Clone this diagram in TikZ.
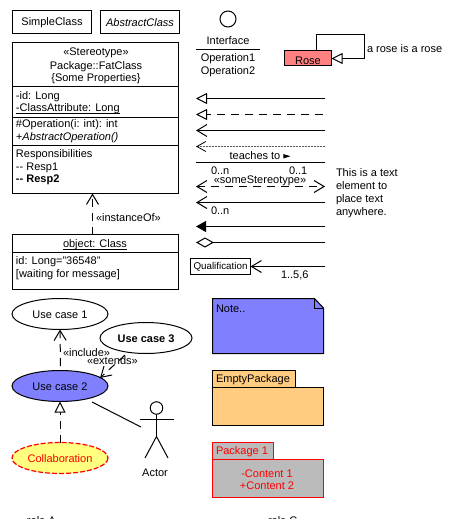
\documentclass[tikz,border=0pt]{standalone}
\usepackage{fontspec}
\setmainfont{Liberation Sans}
\usetikzlibrary{arrows.meta,shapes.geometric}
\definecolor{uccol}{HTML}{8080FF}
\definecolor{rosecol}{HTML}{FF8080}
\definecolor{pkgcol}{HTML}{FFCC80}
\definecolor{collcol}{HTML}{FFFF80}
\definecolor{greycol}{HTML}{BBBBBB}
\definecolor{redline}{RGB}{255,0,0}
\newcommand{\myul}[1]{\setbox0=\hbox{#1}\rlap{\rule[-1.6pt]{\wd0}{.7pt}}\box0}
\tikzset{
 box/.style={draw,line width=1pt,inner sep=0pt,outer sep=0pt},
 redbox/.style={rectangle,fill=greycol,inner sep=0pt,outer sep=0pt},
 redline path/.style={draw=redline,line width=1.5pt},
 txt/.style={inner sep=0pt,outer sep=0pt,yshift=-.8pt,font=\fontsize{11}{13}\selectfont},
 ltxt/.style={txt,anchor=west},
 uc/.style={draw,ellipse,line width=1pt,inner sep=0pt,outer sep=0pt,minimum width=96pt,minimum height=31pt,text height=8pt,text depth=0pt,font=\fontsize{11}{13}\selectfont},
 conn/.style={line width=1pt},
 dashconn/.style={line width=1pt,dash pattern=on 8pt off 6pt},
 tri/.tip={Triangle[open,fill=white,length=11pt,width=11pt,line width=1pt]},
 barb/.tip={Straight Barb[length=10pt,width=12pt,line width=1pt]},
 sbarb/.tip={Straight Barb[length=9pt,width=10pt,line width=.8pt,color=black]},
 ftri/.tip={Triangle[length=10pt,width=11pt]},
 dia/.tip={Diamond[open,fill=white,length=18pt,width=10pt,line width=1pt]},
}
\begin{document}
\begin{tikzpicture}[x=1pt,y=-1pt]
\useasboundingbox (0,0) rectangle (452,519);
\clip (0,0) rectangle (452,519);
% simple classes
\node[box,minimum width=79pt,minimum height=23pt,anchor=north west] (simple) at (12.5,10.5) {};
\node[txt] (simplel) at (52,22) {SimpleClass};
\node[box,minimum width=79pt,minimum height=23pt,anchor=north west] (abstract) at (100.5,10.5) {};
\node[txt] (abstractl) at (140,21.5) {\itshape AbstractClass};
% fat class
\node[box,minimum width=166pt,minimum height=151pt,anchor=north west] (fat) at (12.5,42.5) {};
\draw[line width=1pt] (12.5,86) -- (178.5,86) (12.5,117) -- (178.5,117) (12.5,145.5) -- (178.5,145.5);
\node[txt] (st) at (96,52.5) {«Stereotype»};
\node[txt] (pk) at (96,65.5) {Package::FatClass};
\node[txt] (pr) at (96,78) {\{Some Properties\}};
\node[ltxt] (a1) at (16,96) {-id: Long};
\node[ltxt] (a2) at (16,108) {\myul{-ClassAttribute: Long}};
\node[ltxt] (o1) at (16,124) {\#Operation(i: int): int};
\node[ltxt] (o2) at (16,136.5) {\itshape +AbstractOperation()};
\node[ltxt] (r0) at (16,154) {Responsibilities};
\node[ltxt] (r1) at (16,167) {{-}{-} Resp1};
\node[ltxt] (r2) at (16,179) {\bfseries {-}{-} Resp2};
% object
\node[box,minimum width=166pt,minimum height=55pt,anchor=north west] (obj) at (12.5,234.5) {};
\draw[line width=1pt] (12.5,252.5) -- (178.5,252.5);
\node[txt] (ot) at (95,244) {\myul{object: Class}};
\node[ltxt] (o3) at (16,261) {id: Long="36548"};
\node[ltxt] (o4) at (16,274) {[waiting for message]};
\draw[dashconn,-{barb}] (obj.north -| 92.5,0) -- (fat.south -| 92.5,0);
\node[ltxt] (io) at (96,217) {«instanceOf»};
% interface
\node[draw,circle,line width=1pt,minimum size=16pt,inner sep=0pt] (ifc) at (228,19) {};
\node[txt] (il) at (228,40) {Interface};
\coordinate (il1) at (196,49.5);
\coordinate (il2) at (260,49.5);
\draw[line width=1pt] (il1) -- (il2);
\node[txt] (i1) at (228,57.5) {Operation1};
\node[txt] (i2) at (228,70.5) {Operation2};
% rose
\node[box,fill=rosecol,minimum width=47pt,minimum height=15pt,anchor=north west] (rose) at (284.5,50.5) {};
\node[txt] (rosel) at (308,59.5) {Rose};
\draw[conn,-{tri}] (316.5,50) -- (316.5,34.5) -- (364.5,34.5) -- (364.5,58.5) -- (rose.east |- 0,58.5);
\node[ltxt] (rl) at (367,48) {a rose is a rose};
% arrows
\coordinate (e1) at (325,98.5); \coordinate (s1) at (196,98.5);
\coordinate (e2) at (323,114.5); \coordinate (s2) at (196,114.5);
\coordinate (e3) at (325,130.5); \coordinate (s3) at (196,130.5);
\coordinate (e4) at (325,146.5); \coordinate (s4) at (196,146.5);
\coordinate (e5) at (325,162.5); \coordinate (s5) at (196,162.5);
\coordinate (e6) at (325,186.5); \coordinate (s6) at (196,186.5);
\coordinate (e7) at (325,202.5); \coordinate (s7) at (196,202.5);
\coordinate (e8) at (325,226.5); \coordinate (s8) at (196,226.5);
\coordinate (e9) at (325,242.5); \coordinate (s9) at (196,242.5);
\coordinate (e10) at (325,266.5);
\draw[conn,-{tri}] (e1) -- (s1);
\draw[dashconn,-{tri}] (e2) -- (s2);
\draw[conn,-{barb}] (e3) -- (s3);
\draw[line width=.6pt,black!65,dash pattern=on 2pt off 1pt,-{sbarb}] (e4) -- (s4);
\draw[line width=1pt] (e5) -- (s5);
\node[txt] (tt) at (260,155) {teaches to \tikz[baseline=-3.5pt]\fill (0,-2.2pt) -- (7pt,0) -- (0,2.2pt) -- cycle;};
\node[ltxt] (m1) at (211,169.5) {0..n};
\node[ltxt] (m2) at (289,169.5) {0..1};
\node[txt] (ss) at (260,179.5) {«someStereotype»};
\draw[dashconn,{barb}-{barb}] (s6) -- (e6);
\draw[conn,-{barb}] (e7) -- (s7);
\node[ltxt] (m3) at (211,209.5) {0..n};
\draw[conn,-{ftri}] (e8) -- (s8);
\draw[conn,-{dia}] (e9) -- (s9);
\node[box,minimum width=60pt,minimum height=16pt,anchor=north west,font=\fontsize{9.8}{11}\selectfont] (qual) at (190.5,258.5) {Qualification};
\draw[conn,-{barb}] (e10) -- (qual.east);
\node[ltxt] (m4) at (281,274.5) {1..5,6};
\node[ltxt] (t1) at (336,172) {This is a text};
\node[ltxt] (t2) at (336,185) {element to};
\node[ltxt] (t3) at (336,198.5) {place text};
\node[ltxt] (t4) at (336,212) {anywhere.};
% use cases
\node[uc] (u1) at (60,314) {Use case 1};
\node[uc,minimum width=92pt] (u3) at (146,338) {\bfseries Use case 3};
\node[uc,fill=uccol] (u2) at (60,386) {Use case 2};
\node[uc,draw=none,fill=collcol,text=redline] (coll) at (60,458) {Collaboration};
\draw[draw=redline,line width=1.2pt,dash pattern=on 5pt off 2pt] (coll.center) ellipse (48 and 15.5);
\coordinate (inc0) at (60.5,366);
\draw[dashconn,-{barb}] (inc0) -- (u1.south);
\node[ltxt] (inc) at (63,352) {«include»};
\node[ltxt] (ext) at (87,359.5) {«extends»};
\coordinate (ex) at (125,355);
\coordinate (ext2) at (100,378);
\draw[dashconn,-{barb}] (ex) -- (ext2);
\draw[dashconn,-{tri}] (coll.north) -- (u2.south);
% actor
\node[draw,circle,line width=1pt,minimum size=12.5pt,inner sep=0pt] (head) at (156.5,408) {};
\coordinate (hip) at (156.5,436.5);
\draw[line width=1pt] (head.south) -- (hip);
\draw[line width=1pt] (139.5,419) -- (173.5,419);
\draw[line width=1pt] (145,458) -- (hip) -- (168,458);
\node[txt] (al) at (155,472) {Actor};
\coordinate (ac) at (141,427);
\coordinate (uc2e) at (92,402);
\draw[line width=1pt] (uc2e) -- (ac);
% note
\filldraw[line width=1pt,fill=uccol] (212.5,298.5) -- (314.5,298.5) -- (323.5,308) -- (323.5,353.5) -- (212.5,353.5) -- cycle;
\draw[line width=1pt] (314.5,298.5) -- (314.5,308) -- (323.5,308);
\node[ltxt] (nt) at (216,308) {Note..};
% packages
\node[box,fill=pkgcol,minimum width=83pt,minimum height=17pt,anchor=north west] (p1t) at (212.5,370.5) {};
\node[ltxt] (p1l) at (216,379) {EmptyPackage};
\node[box,fill=pkgcol,minimum width=111pt,minimum height=38pt,anchor=north west] (p1b) at (212.5,387.5) {};
\node[redbox,minimum width=61pt,minimum height=17pt,anchor=north west] (p2t) at (212.5,442.5) {};
\node[redbox,minimum width=111pt,minimum height=38pt,anchor=north west] (p2b) at (212.5,459.5) {};
\draw[redline path] (p2t.south west) -- (p2t.north west) -- (p2t.north east) -- (p2t.south east);
\draw[redline path] (p2b.north west) -- (p2b.north east) -- (p2b.south east) -- (p2b.south west) -- cycle;
\node[ltxt,text=redline] (p2l) at (216,451) {Package 1};
\node[txt,text=redline] (c1) at (267,472.5) {-Content 1};
\node[txt,text=redline] (c2) at (267,485) {+Content 2};
% cut-off labels
\node[ltxt] (ra) at (27,520) {role A};
\node[ltxt] (rc) at (268,520) {role C};
\end{tikzpicture}
\end{document}
